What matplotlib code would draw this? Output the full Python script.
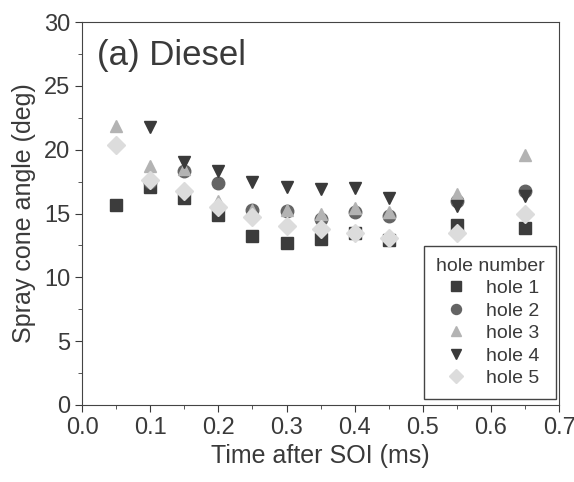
import matplotlib.pyplot as plt
import numpy as np
from matplotlib.ticker import MultipleLocator, FormatStrFormatter

plt.rcParams['font.family'] = ['Liberation Sans', 'DejaVu Sans']

# time after SOI (ms)
time_ms = [0.05, 0.10, 0.15, 0.20, 0.25, 0.30, 0.35, 0.40, 0.45, 0.55, 0.65]

# spray cone angle (deg), one list per hole
hole1 = [15.7, 17.1, 16.2, 14.9, 13.2, 12.7, 13.0, 13.5, 12.9, 14.1, 13.9]
hole2 = [np.nan, 17.5, 18.3, 17.4, 15.3, 15.2, 14.6, 15.1, 14.8, 16.0, 16.8]
hole3 = [21.9, 18.7, 18.5, 16.0, 15.3, 15.3, 15.0, 15.4, 15.1, 16.5, 19.6]
hole4 = [np.nan, 21.8, 19.0, 18.3, 17.5, 17.1, 16.9, 17.0, 16.2, 15.6, 16.4]
hole5 = [20.4, 17.6, 16.8, 15.5, 14.7, 14.0, 13.8, 13.5, 13.1, 13.5, 15.0]

labels = ['hole 1', 'hole 2', 'hole 3', 'hole 4', 'hole 5']
series = [hole1, hole2, hole3, hole4, hole5]
markers = ['s', 'o', '^', 'v', 'D']
colors = ['#3c3c3c', '#646464', '#b3b3b3', '#3a3a3a', '#dcdcdc']

txt = '#3a3a3a'

fig = plt.figure(figsize=(5.74, 4.82), dpi=100)
ax = fig.add_axes([0.143, 0.160, 0.831, 0.794])

for vals, lab, m, c in zip(series, labels, markers, colors):
    ax.plot(time_ms, vals, linestyle='none', marker=m, markersize=9,
            color=c, markeredgecolor=c, label=lab)

ax.set_xlim(0, 0.7)
ax.set_ylim(0, 30)
ax.xaxis.set_major_locator(MultipleLocator(0.1))
ax.xaxis.set_minor_locator(MultipleLocator(0.05))
ax.xaxis.set_major_formatter(FormatStrFormatter('%.1f'))
ax.yaxis.set_major_locator(MultipleLocator(5))
ax.yaxis.set_minor_locator(MultipleLocator(2.5))
ax.tick_params(which='major', direction='out', length=5, labelsize=17, colors=txt)
ax.tick_params(which='minor', direction='out', length=3, colors=txt)

ax.set_xlabel('Time after SOI (ms)', fontsize=18, color=txt, labelpad=4)
ax.set_ylabel('Spray cone angle (deg)', fontsize=18, color=txt, labelpad=6)

for sp in ax.spines.values():
    sp.set_color('#444444')

ax.text(0.031, 0.955, '(a) Diesel', transform=ax.transAxes, fontsize=25,
        color=txt, va='top', ha='left')

leg = ax.legend(title='hole number', loc='lower right', fontsize=14, title_fontsize=14,
                fancybox=False, edgecolor='#444444', framealpha=1,
                handletextpad=0.75, borderpad=0.6, labelspacing=0.25,
                handlelength=1.6, markerscale=0.8,
                borderaxespad=0, bbox_to_anchor=(0.994, 0.016))
leg.get_frame().set_linewidth(1.0)
for t in leg.get_texts():
    t.set_color(txt)
leg.get_title().set_color(txt)

plt.savefig('out.png', dpi=100)
